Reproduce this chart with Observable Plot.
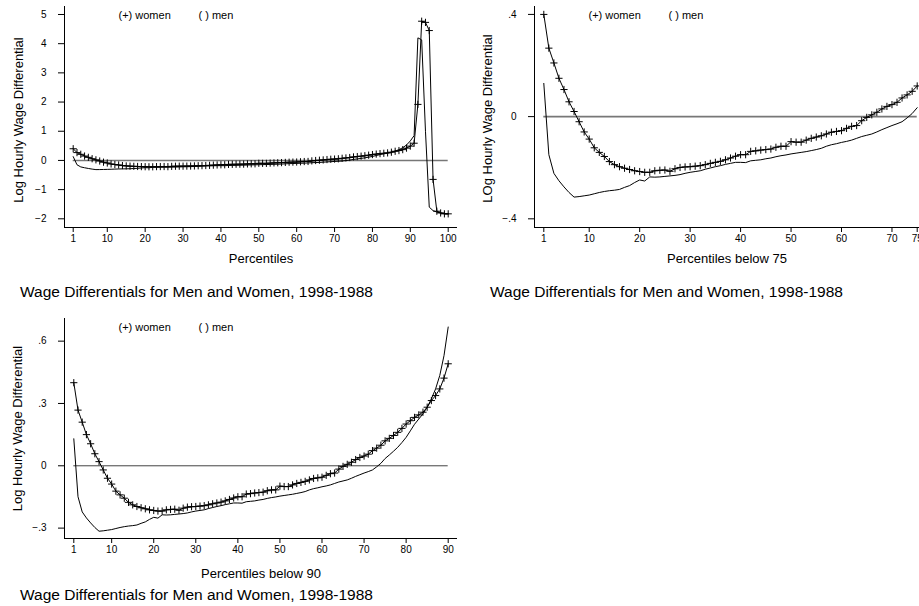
<!DOCTYPE html>
<html><head><meta charset="utf-8">
<script src="https://cdn.jsdelivr.net/npm/d3@7"></script>
<script src="https://cdn.jsdelivr.net/npm/@observablehq/plot@0.6"></script>
<style>
body{margin:0;background:#fff;font-family:"Liberation Sans",Arial,sans-serif;}
#root{position:relative;width:919px;height:606px;overflow:hidden;background:#fff;}
.panel{position:absolute;}
.caption{position:absolute;font-size:15.5px;line-height:15.5px;color:#000;white-space:nowrap;z-index:2;}
</style></head><body><div id="root"></div>
<script>
// ---------- data ----------
const percentiles = [1,2,3,4,5,6,7,8,9,10,11,12,13,14,15,16,17,18,19,20,21,22,23,24,25,26,27,28,29,30,31,32,33,34,35,36,37,38,39,40,41,42,43,44,45,46,47,48,49,50,51,52,53,54,55,56,57,58,59,60,61,62,63,64,65,66,67,68,69,70,71,72,73,74,75,76,77,78,79,80,81,82,83,84,85,86,87,88,89,90,91,92,93,94,95,96,97,98,99,100];
const womenDiff = [0.40,0.268,0.21,0.15,0.106,0.058,0.02,-0.02,-0.06,-0.088,
  -0.122,-0.14,-0.156,-0.176,-0.188,-0.196,-0.202,-0.207,-0.212,-0.215,
  -0.218,-0.218,-0.212,-0.21,-0.209,-0.214,-0.204,-0.199,-0.197,-0.196,
  -0.194,-0.192,-0.188,-0.183,-0.179,-0.175,-0.169,-0.162,-0.155,-0.149,
  -0.149,-0.136,-0.134,-0.131,-0.129,-0.127,-0.12,-0.116,-0.116,-0.098,
  -0.1,-0.1,-0.092,-0.085,-0.08,-0.075,-0.068,-0.061,-0.058,-0.055,
  -0.046,-0.038,-0.035,-0.016,-0.003,0.007,0.017,0.03,0.04,0.047,
  0.056,0.073,0.085,0.099,0.12,0.132,0.146,0.161,0.18,0.201,
  0.217,0.233,0.245,0.258,0.282,0.314,0.338,0.37,0.422,0.491,
  0.59,1.92,4.77,4.73,4.45,-0.65,-1.74,-1.8,-1.83,-1.83];
const menDiff = [0.13,-0.149,-0.222,-0.251,-0.275,-0.297,-0.315,-0.313,-0.31,-0.307,
  -0.302,-0.297,-0.293,-0.29,-0.288,-0.285,-0.277,-0.27,-0.258,-0.248,
  -0.252,-0.236,-0.237,-0.236,-0.234,-0.232,-0.23,-0.227,-0.222,-0.218,
  -0.215,-0.212,-0.206,-0.201,-0.196,-0.192,-0.187,-0.183,-0.179,-0.179,
  -0.18,-0.173,-0.171,-0.169,-0.165,-0.162,-0.157,-0.153,-0.15,-0.146,
  -0.143,-0.14,-0.137,-0.133,-0.129,-0.124,-0.116,-0.11,-0.106,-0.101,
  -0.097,-0.092,-0.085,-0.078,-0.073,-0.068,-0.06,-0.051,-0.043,-0.035,
  -0.028,-0.02,-0.005,0.012,0.035,0.052,0.07,0.089,0.112,0.137,
  0.168,0.2,0.225,0.25,0.282,0.322,0.37,0.435,0.53,0.668,
  0.85,4.2,4.13,1.0,-1.6,-1.72,-1.77,-1.8,-1.82,-1.83];
const legendLabels = ["(+) women", "( ) men"];
const captionText = "Wage Differentials for Men and Women, 1998-1988";
const xTitles = ["Percentiles", "Percentiles below 75", "Percentiles below 90"];
const yTitles = ["Log Hourly Wage Differential", "LOg Hourly Wage Differential", "Log Hourly Wage Differential"];
const percentileLimits = [100, 75, 90];
const xTicks1 = [1,10,20,30,40,50,60,70,80,90,100];
const xTicks2 = [1,10,20,30,40,50,60,70,75];
const xTicks3 = [1,10,20,30,40,50,60,70,80,90];
const yTicks1 = [-2,-1,0,1,2,3,4,5];
const yTickLabels1 = ["\u22122","\u22121","0","1","2","3","4","5"];
const yTicks2 = [-0.4,0,0.4];
const yTickLabels2 = ["\u2212.4","0",".4"];
const yTicks3 = [-0.3,0,0.3,0.6];
const yTickLabels3 = ["\u2212.3","0",".3",".6"];

// ---------- drawing ----------
const rows = percentiles.map((p, i) => ({p, women: womenDiff[i], men: menDiff[i]}));
const plusSymbol = {draw(ctx, size) {
  const r = Math.sqrt(size / Math.PI);
  ctx.moveTo(-r, 0); ctx.lineTo(r, 0); ctx.moveTo(0, -r); ctx.lineTo(0, r);
}};
const FONT = '"Liberation Sans", Arial, Helvetica, sans-serif';

function makePanel(cfg) {
  const data = rows.filter(d => d.p <= cfg.limit);
  return Plot.plot({
    width: cfg.width, height: cfg.height,
    marginTop: cfg.mt, marginBottom: cfg.mb, marginLeft: cfg.ml, marginRight: cfg.mr,
    style: {fontFamily: FONT, fontSize: "10px", background: "transparent", overflow: "visible", color: "#000"},
    x: {domain: cfg.xDomain},
    y: {domain: cfg.yDomain},
    marks: [
      Plot.ruleY([0], {x1: data[0].p, x2: data[data.length - 1].p, stroke: cfg.zeroStroke, strokeWidth: cfg.zeroWidth}),
      Plot.line(data, {x: "p", y: "men", stroke: "#000", strokeWidth: 1}),
      Plot.line(data, {x: "p", y: "women", stroke: "#000", strokeWidth: 1}),
      Plot.dot(data, {x: "p", y: "women", symbol: plusSymbol, r: 3.6, stroke: "#000", fill: "none", strokeWidth: 1}),
      Plot.ruleX([cfg.xDomain[0]], {stroke: "#000", strokeWidth: 1}),
      Plot.ruleY([cfg.yDomain[0]], {stroke: "#000", strokeWidth: 1}),
      Plot.axisX({ticks: cfg.xTicks, tickSize: 5, tickPadding: 2, label: null, fontSize: 10}),
      Plot.axisY({ticks: cfg.yTicks, tickFormat: d => cfg.yLabels[cfg.yTicks.indexOf(d)], tickSize: 6, tickPadding: 12, label: null, fontSize: 10}),
      Plot.text([cfg.xTitle], {text: d => d, frameAnchor: "bottom", textAnchor: "middle", lineAnchor: "middle", dy: cfg.xTitleDy, fontSize: 13}),
      Plot.text([cfg.yTitle], {text: d => d, frameAnchor: "left", textAnchor: "middle", lineAnchor: "middle", rotate: -90, dx: cfg.yTitleDx, dy: cfg.yTitleDy, fontSize: 13}),
      Plot.text([legendLabels[0]], {text: d => d, frameAnchor: "top-left", dx: 54, dy: 9, textAnchor: "start", lineAnchor: "middle", fontSize: 11}),
      Plot.text([legendLabels[1]], {text: d => d, frameAnchor: "top-left", dx: 134, dy: 9, textAnchor: "start", lineAnchor: "middle", fontSize: 11})
    ]
  });
}

const panels = [
  {left: 0, top: 0, width: 460, height: 280, mt: 6, mb: 53, ml: 64, mr: 3,
   xDomain: [-1.297, 102.455], yDomain: [-2.298, 5.274], limit: percentileLimits[0],
   xTicks: xTicks1, yTicks: yTicks1, yLabels: yTickLabels1, xTitle: xTitles[0], yTitle: yTitles[0],
   xTitleDy: 31.8, yTitleDx: -46, yTitleDy: 3, zeroStroke: "#777", zeroWidth: 1.6, capLeft: 20, capTop: 284},
  {left: 460, top: 0, width: 459, height: 280, mt: 6, mb: 53, ml: 74, mr: 0,
   xDomain: [-0.843, 75.456], yDomain: [-0.434, 0.431], limit: percentileLimits[1],
   xTicks: xTicks2, yTicks: yTicks2, yLabels: yTickLabels2, xTitle: xTitles[1], yTitle: yTitles[1],
   xTitleDy: 31.8, yTitleDx: -46.5, yTitleDy: 1.5, zeroStroke: "#777", zeroWidth: 1.6, capLeft: 490, capTop: 284},
  {left: 0, top: 300, width: 460, height: 280, mt: 18, mb: 42, ml: 64, mr: 3,
   xDomain: [-1.211, 92.211], yDomain: [-0.350, 0.709], limit: percentileLimits[2],
   xTicks: xTicks3, yTicks: yTicks3, yLabels: yTickLabels3, xTitle: xTitles[2], yTitle: yTitles[2],
   xTitleDy: 35.8, yTitleDx: -46.5, yTitleDy: 0, zeroStroke: "#444", zeroWidth: 1, capLeft: 20, capTop: 587}
];

const root = document.getElementById("root");
for (const cfg of panels) {
  const wrap = document.createElement("div");
  wrap.className = "panel";
  wrap.style.left = cfg.left + "px";
  wrap.style.top = cfg.top + "px";
  wrap.appendChild(makePanel(cfg));
  root.appendChild(wrap);
  const cap = document.createElement("div");
  cap.className = "caption";
  cap.style.left = cfg.capLeft + "px";
  cap.style.top = cfg.capTop + "px";
  cap.textContent = captionText;
  root.appendChild(cap);
}
</script></body></html>
